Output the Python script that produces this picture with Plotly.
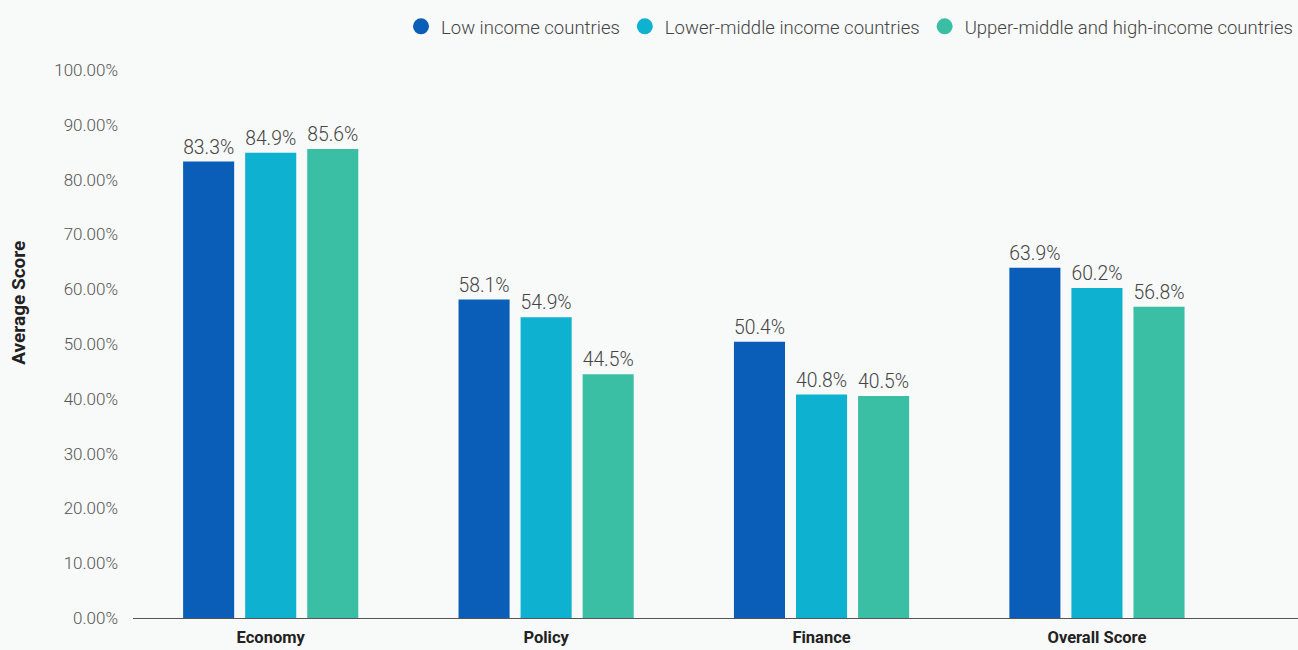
import plotly.graph_objects as go

categories = ["Economy", "Policy", "Finance", "Overall Score"]
series_names = [
    "Low income countries",
    "Lower-middle income countries",
    "Upper-middle and high-income countries",
]
low_income = [83.3, 58.1, 50.4, 63.9]
lower_middle = [84.9, 54.9, 40.8, 60.2]
upper_middle_high = [85.6, 44.5, 40.5, 56.8]
y_ticks = [0, 10, 20, 30, 40, 50, 60, 70, 80, 90, 100]

colors = ["#0b5eb8", "#0eb1d0", "#3abfa4"]
series_values = [low_income, lower_middle, upper_middle_high]
bg = "#f8f9f9"

fig = go.Figure()
for name, vals, col in zip(series_names, series_values, colors):
    fig.add_trace(go.Bar(
        x=categories, y=vals, name=name,
        marker=dict(color=col, line=dict(width=0)),
        text=[f"{v:.1f}%" for v in vals],
        textposition="outside", cliponaxis=False,
        textfont=dict(family="Roboto", size=20, color="#444444", weight=300),
        showlegend=False,
    ))

# circle markers for the legend entries
for name, col in zip(series_names, colors):
    fig.add_trace(go.Scatter(
        x=[None], y=[None], mode="markers", name=name,
        marker=dict(color=col, size=20, symbol="circle"),
    ))

fig.update_layout(
    width=1298, height=650,
    margin=dict(l=133, r=0, t=70, b=32),
    paper_bgcolor=bg, plot_bgcolor=bg,
    barmode="group", bargap=0.324, bargroupgap=0.177,
    font=dict(family="Roboto", color="#444444"),
    legend=dict(
        orientation="h", x=1.0, xanchor="right", y=0.988, yanchor="top",
        yref="container", traceorder="normal",
        font=dict(family="Roboto", size=18.5, color="#444444", weight=300),
        itemwidth=30, bgcolor="rgba(0,0,0,0)",
    ),
    xaxis=dict(
        type="category", range=[-0.5, 3.73], automargin=False,
        showgrid=False, showline=True, linecolor="#555555", linewidth=1,
        ticks="", ticklabelstandoff=4,
        tickfont=dict(family="Roboto", size=16.5, color="#222222", weight="bold"),
    ),
    yaxis=dict(
        range=[0, 100], tickvals=y_ticks, automargin=False,
        ticktext=[f"{v:.2f}%" for v in y_ticks],
        showgrid=False, zeroline=False, showline=False, ticks="",
        ticklabelstandoff=14,
        tickfont=dict(family="Roboto", size=17, color="#555555", weight=300),
    ),
    annotations=[dict(
        text="Average Score", textangle=-90,
        xref="paper", x=-0.098, xanchor="center",
        yref="paper", y=0.575, yanchor="middle",
        showarrow=False,
        font=dict(family="Roboto", size=19, color="#222222", weight="bold"),
    )],
)

fig.write_html("out.html")
